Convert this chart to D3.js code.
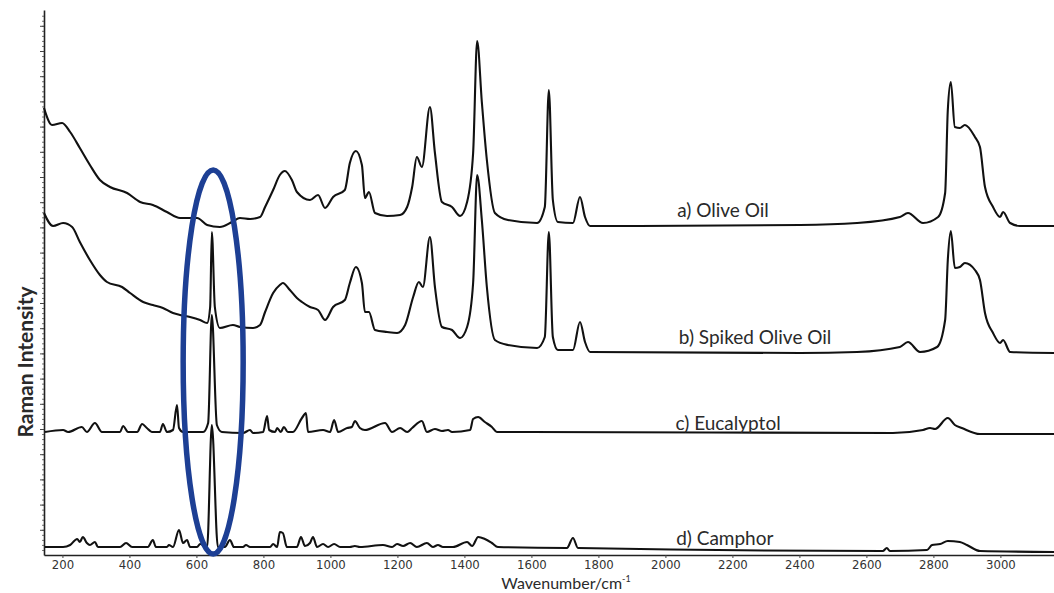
<!DOCTYPE html>
<html>
<head>
<meta charset="utf-8">
<script src="https://cdn.jsdelivr.net/npm/d3@7"></script>
<style>
  body { margin: 0; background: #fff; }
  svg { display: block; }
  .xaxis text { font-family: "Liberation Sans Narrow", "DejaVu Sans Condensed", sans-serif; font-size: 13px; fill: #333; }
  .lbl { font-family: Lato, "Open Sans", sans-serif; fill: #2a2a2a; }
</style>
</head>
<body>
<svg></svg>
<script>
// spectra: [wavenumber cm-1, intensity (arb.)]
const oliveOil = [
  [145,447],[169,430],[199,432],[223,423],[252,407],[282,390],[312,375],[342,368],[393,362],
  [432,353],[470,350],[512,343],[551,337],[572,337],[602,337],[632,330],[670,328],[706,333],
  [730,337],[760,336],[790,338],[805,348],[829,365],[849,380],[864,384],[885,375],[900,363],
  [939,355],[963,360],[984,347],[1008,358],[1043,365],[1058,392],[1076,404],[1094,390],
  [1103,357],[1115,363],[1133,342],[1169,339],[1208,340],[1229,348],[1244,368],[1258,398],
  [1273,388],[1297,448],[1312,402],[1333,353],[1363,348],[1387,339],[1408,353],[1426,402],
  [1438,514],[1452,453],[1467,395],[1491,342],[1530,335],[1617,332],[1640,348],[1652,465],
  [1664,355],[1679,333],[1724,332],[1745,358],[1760,338],[1775,329],[2402,330],[2572,332],
  [2700,338],[2724,342],[2769,332],[2814,338],[2835,362],[2843,445],[2852,473],[2864,428],
  [2879,427],[2894,430],[2924,418],[2939,408],[2954,368],[2978,348],[2999,338],[3008,343],
  [3029,332],[3058,329],[3160,329]
];
const spikedOliveOil = [
  [145,342],[172,329],[202,332],[229,328],[252,313],[282,295],[312,280],[333,273],[378,268],
  [402,262],[441,253],[470,250],[500,247],[530,242],[551,240],[581,238],[611,235],[632,232],
  [641,248],[646,323],[655,248],[670,227],[709,230],[730,228],[769,227],[790,230],[805,243],
  [829,262],[849,270],[858,272],[879,265],[900,257],[915,253],[939,248],[963,245],[984,235],
  [1008,248],[1043,255],[1058,272],[1076,288],[1094,272],[1103,243],[1115,243],[1133,225],
  [1169,223],[1199,222],[1223,230],[1247,258],[1264,273],[1276,268],[1297,318],[1312,268],
  [1333,228],[1363,225],[1387,217],[1408,228],[1426,272],[1438,380],[1452,335],[1467,268],
  [1491,215],[1530,210],[1617,207],[1640,218],[1652,323],[1664,218],[1679,205],[1724,205],
  [1745,233],[1760,213],[1775,203],[2402,202],[2572,203],[2700,208],[2724,213],[2760,203],
  [2811,208],[2835,235],[2843,295],[2852,324],[2864,287],[2879,288],[2894,292],[2924,285],
  [2939,275],[2954,242],[2978,222],[2999,212],[3008,215],[3029,203],[3160,202]
];
const eucalyptol = [
  [148,123],[202,125],[217,123],[258,128],[273,123],[297,132],[318,123],[372,123],[381,129],
  [396,123],[423,123],[438,131],[452,127],[467,123],[491,123],[500,131],[512,123],[530,125],
  [542,150],[548,127],[560,123],[620,123],[635,132],[646,240],[661,130],[676,123],[739,122],
  [760,125],[769,122],[799,123],[811,139],[817,125],[835,123],[841,127],[852,123],[861,128],
  [873,123],[888,123],[915,137],[927,142],[933,123],[978,125],[999,123],[1011,135],[1023,123],
  [1050,127],[1064,128],[1073,134],[1088,127],[1103,125],[1163,132],[1184,123],[1208,127],
  [1229,123],[1244,127],[1273,134],[1288,123],[1312,126],[1333,124],[1351,125],[1363,123],
  [1417,125],[1426,136],[1441,138],[1461,133],[1482,128],[1497,123],[1596,123],[2679,122],
  [2769,125],[2790,127],[2805,126],[2843,137],[2864,130],[2885,127],[2939,121],[3160,121]
];
const camphor = [
  [148,8],[202,8],[223,10],[244,16],[252,13],[261,18],[273,12],[282,10],[297,13],[306,8],
  [372,8],[390,12],[408,8],[455,8],[470,15],[479,8],[512,8],[518,10],[530,8],[548,25],
  [560,12],[572,15],[581,8],[602,8],[611,11],[632,8],[646,130],[664,8],[685,8],[700,15],
  [712,8],[739,8],[748,10],[760,8],[820,8],[829,11],[841,8],[849,23],[858,22],[870,8],
  [900,8],[912,18],[924,9],[939,12],[948,18],[960,8],[978,11],[993,8],[1011,11],[1029,8],
  [1058,8],[1073,9],[1088,8],[1157,10],[1184,8],[1199,11],[1217,9],[1238,12],[1258,8],
  [1288,12],[1306,8],[1321,10],[1336,8],[1366,8],[1408,13],[1423,9],[1441,18],[1461,16],
  [1482,12],[1500,8],[1706,7],[1724,17],[1739,7],[2649,4],[2661,7],[2670,4],[2781,5],
  [2796,10],[2820,11],[2843,14],[2879,13],[2900,10],[2939,4],[3160,3]
];

const seriesNames = ['a) Olive Oil', 'b) Spiked Olive Oil', 'c) Eucalyptol', 'd) Camphor'];
const seriesData = [oliveOil, spikedOliveOil, eucalyptol, camphor];
// where each name sits: [wavenumber, intensity]
const labelAnchors = [[2035, 338], [2040, 211], [2030, 125], [2032, 10]];

const xTicks = d3.range(200, 3001, 200);
const yMajor = d3.range(25.2, 540, 25.2);
const yMinor = d3.range(5.04, 540, 5.04);

const W = 1054, H = 593;
const svg = d3.select('svg').attr('width', W).attr('height', H);

const x = d3.scaleLinear().domain([145, 3160]).range([44, 1054]);
const y = d3.scaleLinear().domain([0, 545]).range([555, 10]);

// x axis
const xAxisG = svg.append('g')
  .attr('class', 'xaxis')
  .attr('transform', `translate(0, ${y(0)})`)
  .call(d3.axisBottom(x).tickValues(xTicks).tickFormat(d3.format('d'))
    .tickSize(3).tickSizeOuter(0).tickPadding(2));
xAxisG.select('.domain').attr('stroke', '#222').attr('stroke-width', 1.6);
xAxisG.selectAll('.tick line').attr('stroke', '#444');

// y axis with minor ticks
const yMinorG = svg.append('g')
  .attr('transform', `translate(${x(145)}, 0)`)
  .call(d3.axisLeft(y).tickValues(yMinor).tickSize(2).tickFormat(''));
yMinorG.select('.domain').remove();
yMinorG.selectAll('.tick line').attr('stroke', '#777');
const yAxisG = svg.append('g')
  .attr('transform', `translate(${x(145)}, 0)`)
  .call(d3.axisLeft(y).tickValues(yMajor).tickSize(4).tickSizeOuter(0).tickFormat(''));
yAxisG.select('.domain').attr('stroke', '#222').attr('stroke-width', 1.6);
yAxisG.selectAll('.tick line').attr('stroke', '#444');

// spectra
const line = d3.line()
  .x(d => x(d[0]))
  .y(d => y(d[1]))
  .curve(d3.curveMonotoneX);

svg.append('g')
  .selectAll('path')
  .data(seriesData)
  .join('path')
  .attr('d', line)
  .attr('fill', 'none')
  .attr('stroke', '#111')
  .attr('stroke-width', 2.1)
  .attr('stroke-linejoin', 'round');

// series names
svg.append('g')
  .selectAll('text')
  .data(seriesNames)
  .join('text')
  .attr('class', 'lbl')
  .attr('x', (d, i) => x(labelAnchors[i][0]))
  .attr('y', (d, i) => y(labelAnchors[i][1]))
  .attr('font-size', 19)
  .text(d => d);

// blue ellipse around the 650 cm-1 band
svg.append('ellipse')
  .attr('cx', x(650))
  .attr('cy', y(193))
  .attr('rx', 30)
  .attr('ry', y(0) - y(192))
  .attr('fill', 'none')
  .attr('stroke', '#1d3f94')
  .attr('stroke-width', 5.5);

// axis titles
svg.append('text')
  .attr('class', 'lbl')
  .attr('transform', `translate(33, ${y(193)}) rotate(-90)`)
  .attr('text-anchor', 'middle')
  .attr('font-size', 21)
  .attr('font-weight', 700)
  .text('Raman Intensity');

const xt = svg.append('text')
  .attr('class', 'lbl')
  .attr('x', 566)
  .attr('y', 589)
  .attr('text-anchor', 'middle')
  .attr('font-size', 16);
xt.append('tspan').text('Wavenumber/cm');
xt.append('tspan').attr('font-size', 9).attr('dy', -7).text('-1');
</script>
</body>
</html>
